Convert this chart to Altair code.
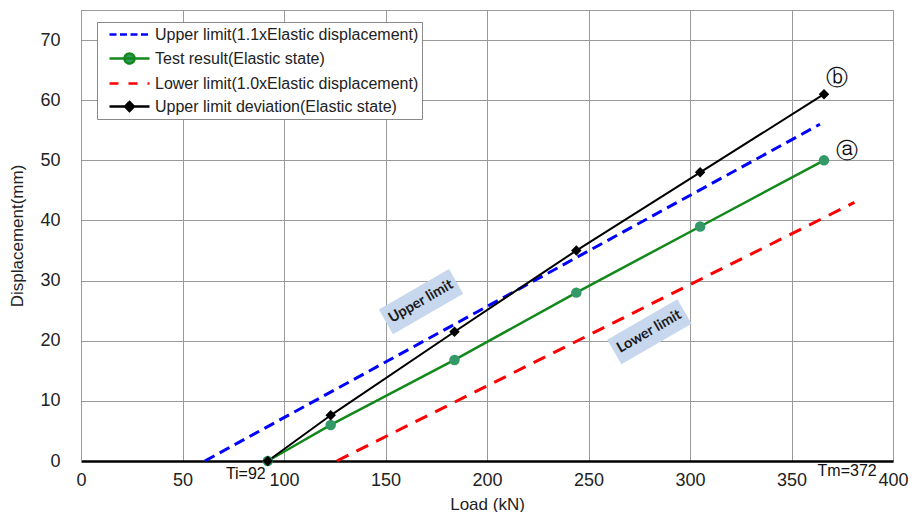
import altair as alt
import pandas as pd

# ---------------- data ----------------
load_pts = [92, 123, 184, 244, 305, 366]
test_disp = [0, 6, 16.8, 28, 39, 50]
dev_disp = [0, 7.6, 21.5, 35, 48, 61]
upper_load = [61, 364]
upper_disp = [0, 56]
lower_load = [126, 381]
lower_disp = [0, 43]

series_names = [
    "Upper limit(1.1xElastic displacement)",
    "Test result(Elastic state)",
    "Lower limit(1.0xElastic displacement)",
    "Upper limit deviation(Elastic state)",
]
x_ticks = list(range(0, 401, 50))
y_ticks = list(range(0, 71, 10))

ann_labels = ["Upper limit", "Lower limit"]
ann_x = [167.5, 280]
ann_y = [26.5, 21.5]

circ_labels = ["ⓑ", "ⓐ"]
circ_x = [372.5, 377.5]
circ_y = [63.7, 51.5]

end_labels = ["Ti=92", "Tm=372"]
end_x = [92, 372]
end_y = [0, 0]

# ---------------- styles ----------------
FONT = "Liberation Sans"
line_colors = ["#0000ff", "#12891a", "#ff0000", "#000000"]
fill_colors = ["#0000ff", "#339966", "#ff0000", "#000000"]
legend_dash = [[7, 3.5], [1, 0], [9, 10], [1, 0]]
LINE = "M0,0L5,0"
legend_shapes = [
    LINE,
    LINE + "M1.875,0A0.625,0.625 0 1,0 3.125,0A0.625,0.625 0 1,0 1.875,0Z",
    LINE,
    LINE + "M2.5,-0.56L3.06,0L2.5,0.56L1.94,0Z",
]
box_path = "M-1,-0.35L1,-0.35L1,0.35L-1,0.35Z"

xscale = alt.Scale(domain=[0, 400], nice=False)
yscale = alt.Scale(domain=[0, 75], nice=False)

x_axis = alt.Axis(values=x_ticks, grid=True, ticks=False, labelFontSize=18,
                  labelPadding=10, labelColor="#222", labelFont=FONT, labelFlush=False,
                  title="Load (kN)", titleFontSize=17, titleFontWeight="normal",
                  titleFont=FONT, titleColor="#222", titlePadding=7,
                  domainColor="#000000", domainWidth=2.5, gridColor="#9a9a9a")
y_axis = alt.Axis(values=y_ticks, grid=True, ticks=False, labelFontSize=18,
                  labelPadding=21, labelColor="#222", labelFont=FONT, labelFlush=False,
                  title="Displacement(mm)", titleFontSize=17, titleFontWeight="normal",
                  titleFont=FONT, titleColor="#222", titlePadding=13,
                  domainColor="#9a9a9a", gridColor="#9a9a9a")

X = alt.X("load:Q", scale=xscale, axis=x_axis)
Y = alt.Y("disp:Q", scale=yscale, axis=y_axis)

df_test = pd.DataFrame({"load": load_pts, "disp": test_disp})
df_dev = pd.DataFrame({"load": load_pts, "disp": dev_disp})
df_up = pd.DataFrame({"load": upper_load, "disp": upper_disp})
df_lo = pd.DataFrame({"load": lower_load, "disp": lower_disp})
df_ann = pd.DataFrame({"load": ann_x, "disp": ann_y, "label": ann_labels})
df_circ = pd.DataFrame({"load": circ_x, "disp": circ_y, "label": circ_labels})
df_end = pd.DataFrame({"load": end_x, "disp": end_y, "label": end_labels})
df_leg = pd.DataFrame({"series": series_names, "load": [0] * 4, "disp": [0] * 4})

boxes = alt.Chart(df_ann).mark_point(shape=box_path, filled=True, fill="#c6d7ee",
                                     size=6561, angle=330, opacity=1, strokeWidth=0
                                     ).encode(x=X, y=Y)
box_text = alt.Chart(df_ann).mark_text(angle=330, font="Lato", fontWeight="bold",
                                       fontSize=14.5, color="#1a1a1a"
                                       ).encode(x=X, y=Y, text="label:N")

upper = alt.Chart(df_up).mark_line(color="#0000ff", strokeDash=[11, 6], strokeWidth=3
                                   ).encode(x=X, y=Y)
lower = alt.Chart(df_lo).mark_line(color="#ff0000", strokeDash=[13, 9], strokeWidth=3
                                   ).encode(x=X, y=Y)
test_line = alt.Chart(df_test).mark_line(color="#12891a", strokeWidth=2.5).encode(x=X, y=Y)
dev_line = alt.Chart(df_dev).mark_line(color="#000000", strokeWidth=2).encode(x=X, y=Y)
test_pts = alt.Chart(df_test).mark_point(shape="circle", filled=True, size=110,
                                         fill="#339966", opacity=1).encode(x=X, y=Y)
dev_pts = alt.Chart(df_dev).mark_point(shape="diamond", filled=True, size=110,
                                       fill="#000000", opacity=1).encode(x=X, y=Y)

leg = alt.Legend(orient="none", legendX=16, legendY=12, title=None,
                 fillColor="white", strokeColor="#8a8a8a", padding=3,
                 symbolSize=256, symbolStrokeWidth=2.5, labelFontSize=16,
                 labelFont=FONT, labelColor="#222", labelOffset=36, rowPadding=5,
                 labelLimit=400)
legend_layer = alt.Chart(df_leg).transform_filter("false").mark_point(
    filled=True, opacity=1, strokeWidth=2.5
).encode(
    x=X, y=Y,
    fill=alt.Fill("series:N", scale=alt.Scale(domain=series_names, range=fill_colors), legend=leg),
    stroke=alt.Stroke("series:N", scale=alt.Scale(domain=series_names, range=line_colors), legend=leg),
    shape=alt.Shape("series:N", scale=alt.Scale(domain=series_names, range=legend_shapes), legend=leg),
    strokeDash=alt.StrokeDash("series:N", scale=alt.Scale(domain=series_names, range=legend_dash), legend=leg),
)

circ = alt.Chart(df_circ).mark_text(fontSize=22, color="#111", font="DejaVu Sans"
                                    ).encode(x=X, y=Y, text="label:N")

ti = alt.Chart(df_end.iloc[[0]]).mark_text(fontSize=16, color="#111", font=FONT,
                                           baseline="top", dy=5, align="right", dx=-2
                                           ).encode(x=X, y=Y, text="label:N")
tm = alt.Chart(df_end.iloc[[1]]).mark_text(fontSize=16, color="#111", font=FONT,
                                           baseline="top", dy=2, align="center", dx=11
                                           ).encode(x=X, y=Y, text="label:N")

chart = alt.layer(
    boxes, box_text, upper, lower, test_line, dev_line,
    test_pts, dev_pts, legend_layer, circ, ti, tm
).properties(
    width=812, height=451,
    autosize=alt.AutoSizeParams(type="none"),
    padding={"left": 73, "top": 2, "right": 15, "bottom": 51},
).configure_view(stroke="#9a9a9a", strokeWidth=1)

chart.save("out.html", embed_options={"renderer": "svg", "actions": False})
